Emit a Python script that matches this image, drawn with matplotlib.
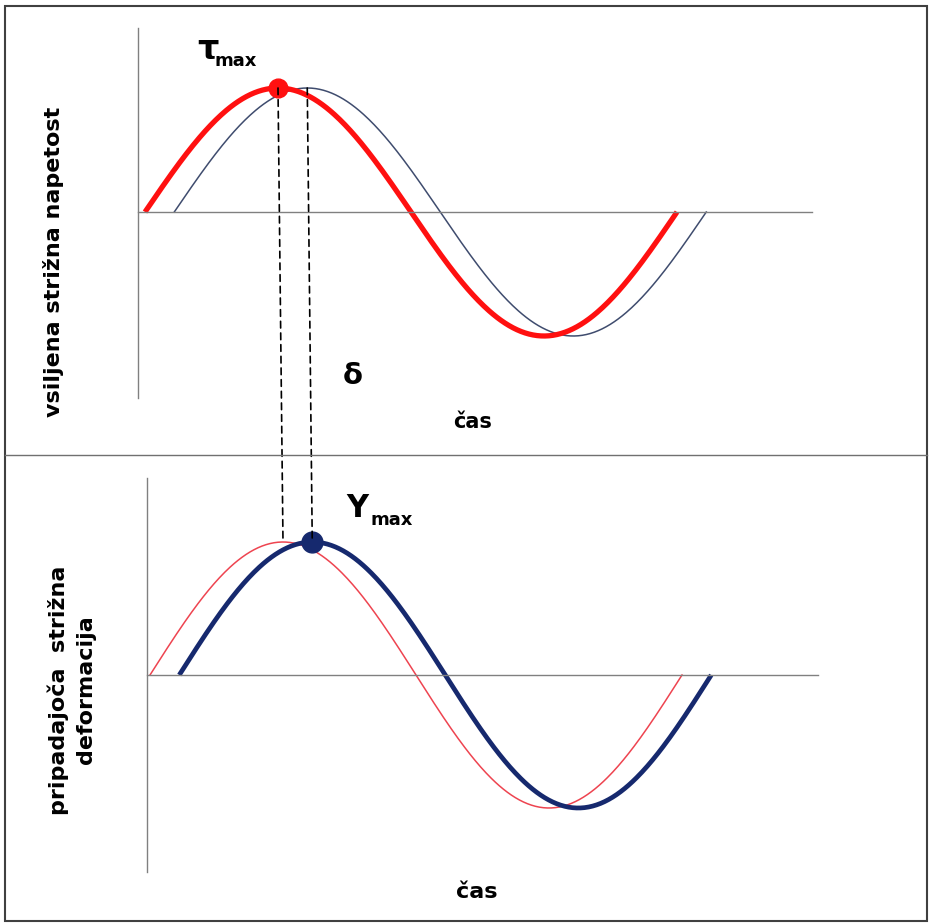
import matplotlib
matplotlib.use('Agg')
import matplotlib.pyplot as plt
import numpy as np
from matplotlib.patches import ConnectionPatch, Rectangle
from matplotlib.lines import Line2D

W, H = 934, 924

# one period of the oscillation, strain lags the stress by a phase angle delta
period = 1.0
amplitude = 1.0
lag = 0.055          # fraction of a period
t = np.linspace(0, period, 400)
wave = amplitude * np.sin(2 * np.pi * t / period)

top_ylabel = 'vsiljena strižna napetost'
bot_ylabel = 'pripadajoča  strižna\ndeformacija'
xlabel = 'čas'

red = '#ff1010'
red_thin = '#ee4450'
navy = '#16296e'
slate = '#3f4c6e'
grey = '#808080'

fig = plt.figure(figsize=(W / 100, H / 100), dpi=100)


def px_axes(x0, y0, x1, y1):
    return fig.add_axes([x0 / W, 1 - y1 / H, (x1 - x0) / W, (y1 - y0) / H])


def style(ax):
    for s in ['top', 'right']:
        ax.spines[s].set_visible(False)
    ax.spines['bottom'].set_position(('data', 0))
    for s in ['left', 'bottom']:
        ax.spines[s].set_color(grey)
        ax.spines[s].set_linewidth(1.0)
    ax.set_xticks([])
    ax.set_yticks([])
    ax.patch.set_alpha(0)


# top panel: imposed shear stress
ax1 = px_axes(138, 28, 812, 398)
style(ax1)
x0 = -7 / 532
ax1.set_xlim(x0, x0 + 674 / 532)
ax1.set_ylim(-186 / 124, 184 / 124)
ax1.plot(t + lag, wave, color=slate, lw=1.1, clip_on=False)
ax1.plot(t, wave, color=red, lw=3.8, solid_capstyle='butt', clip_on=False)
ax1.plot([period / 4], [amplitude], 'o', color=red, ms=13.5, clip_on=False, zorder=5)

# bottom panel: resulting shear strain
ax2 = px_axes(147, 478, 818, 872)
style(ax2)
x0 = -3 / 532
ax2.set_xlim(x0, x0 + 671 / 532)
ax2.set_ylim(-197 / 133, 197 / 133)
ax2.plot(t, wave, color=red_thin, lw=1.1, clip_on=False)
ax2.plot(t + lag, wave, color=navy, lw=3.4, solid_capstyle='butt', clip_on=False)
ax2.plot([period / 4 + lag], [amplitude], 'o', color=navy, ms=15, clip_on=False, zorder=5)

# dashed connectors between the peaks
for tp in [period / 4, period / 4 + lag]:
    con = ConnectionPatch(xyA=(tp, amplitude), coordsA='data', axesA=ax1,
                          xyB=(tp, amplitude), coordsB='data', axesB=ax2,
                          color='black', lw=1.2, linestyle=(0, (4, 3)), zorder=1)
    fig.add_artist(con)

# frame and divider
fig.add_artist(Rectangle((5 / W, 1 - 921 / H), 922 / W, 915 / H, transform=fig.transFigure,
                         fill=False, ec='#404040', lw=1.5))
fig.add_artist(Line2D([5 / W, 927 / W], [1 - 455 / H] * 2, transform=fig.transFigure,
                      color='#707070', lw=1.0))


def ftext(x, y, s, **kw):
    fig.text(x / W, 1 - y / H, s, fontweight='bold', color='black', **kw)


ftext(54, 262, top_ylabel, rotation=90, ha='center', va='center', fontsize=16)
ftext(72, 690, bot_ylabel, rotation=90, ha='center', va='center', fontsize=16,
      multialignment='center', linespacing=1.45)
ftext(473, 422, xlabel, ha='center', va='center', fontsize=15)
ftext(477, 892, xlabel, ha='center', va='center', fontsize=16)
ftext(353, 376, 'δ', ha='center', va='center', fontsize=21)
ftext(197, 59, 'τ', ha='left', va='baseline', fontsize=24)
ftext(214, 66, 'max', ha='left', va='baseline', fontsize=13)
ftext(346, 517, 'Υ', ha='left', va='baseline', fontsize=22)
ftext(370, 525, 'max', ha='left', va='baseline', fontsize=13)

fig.savefig('out.png', dpi=100)
